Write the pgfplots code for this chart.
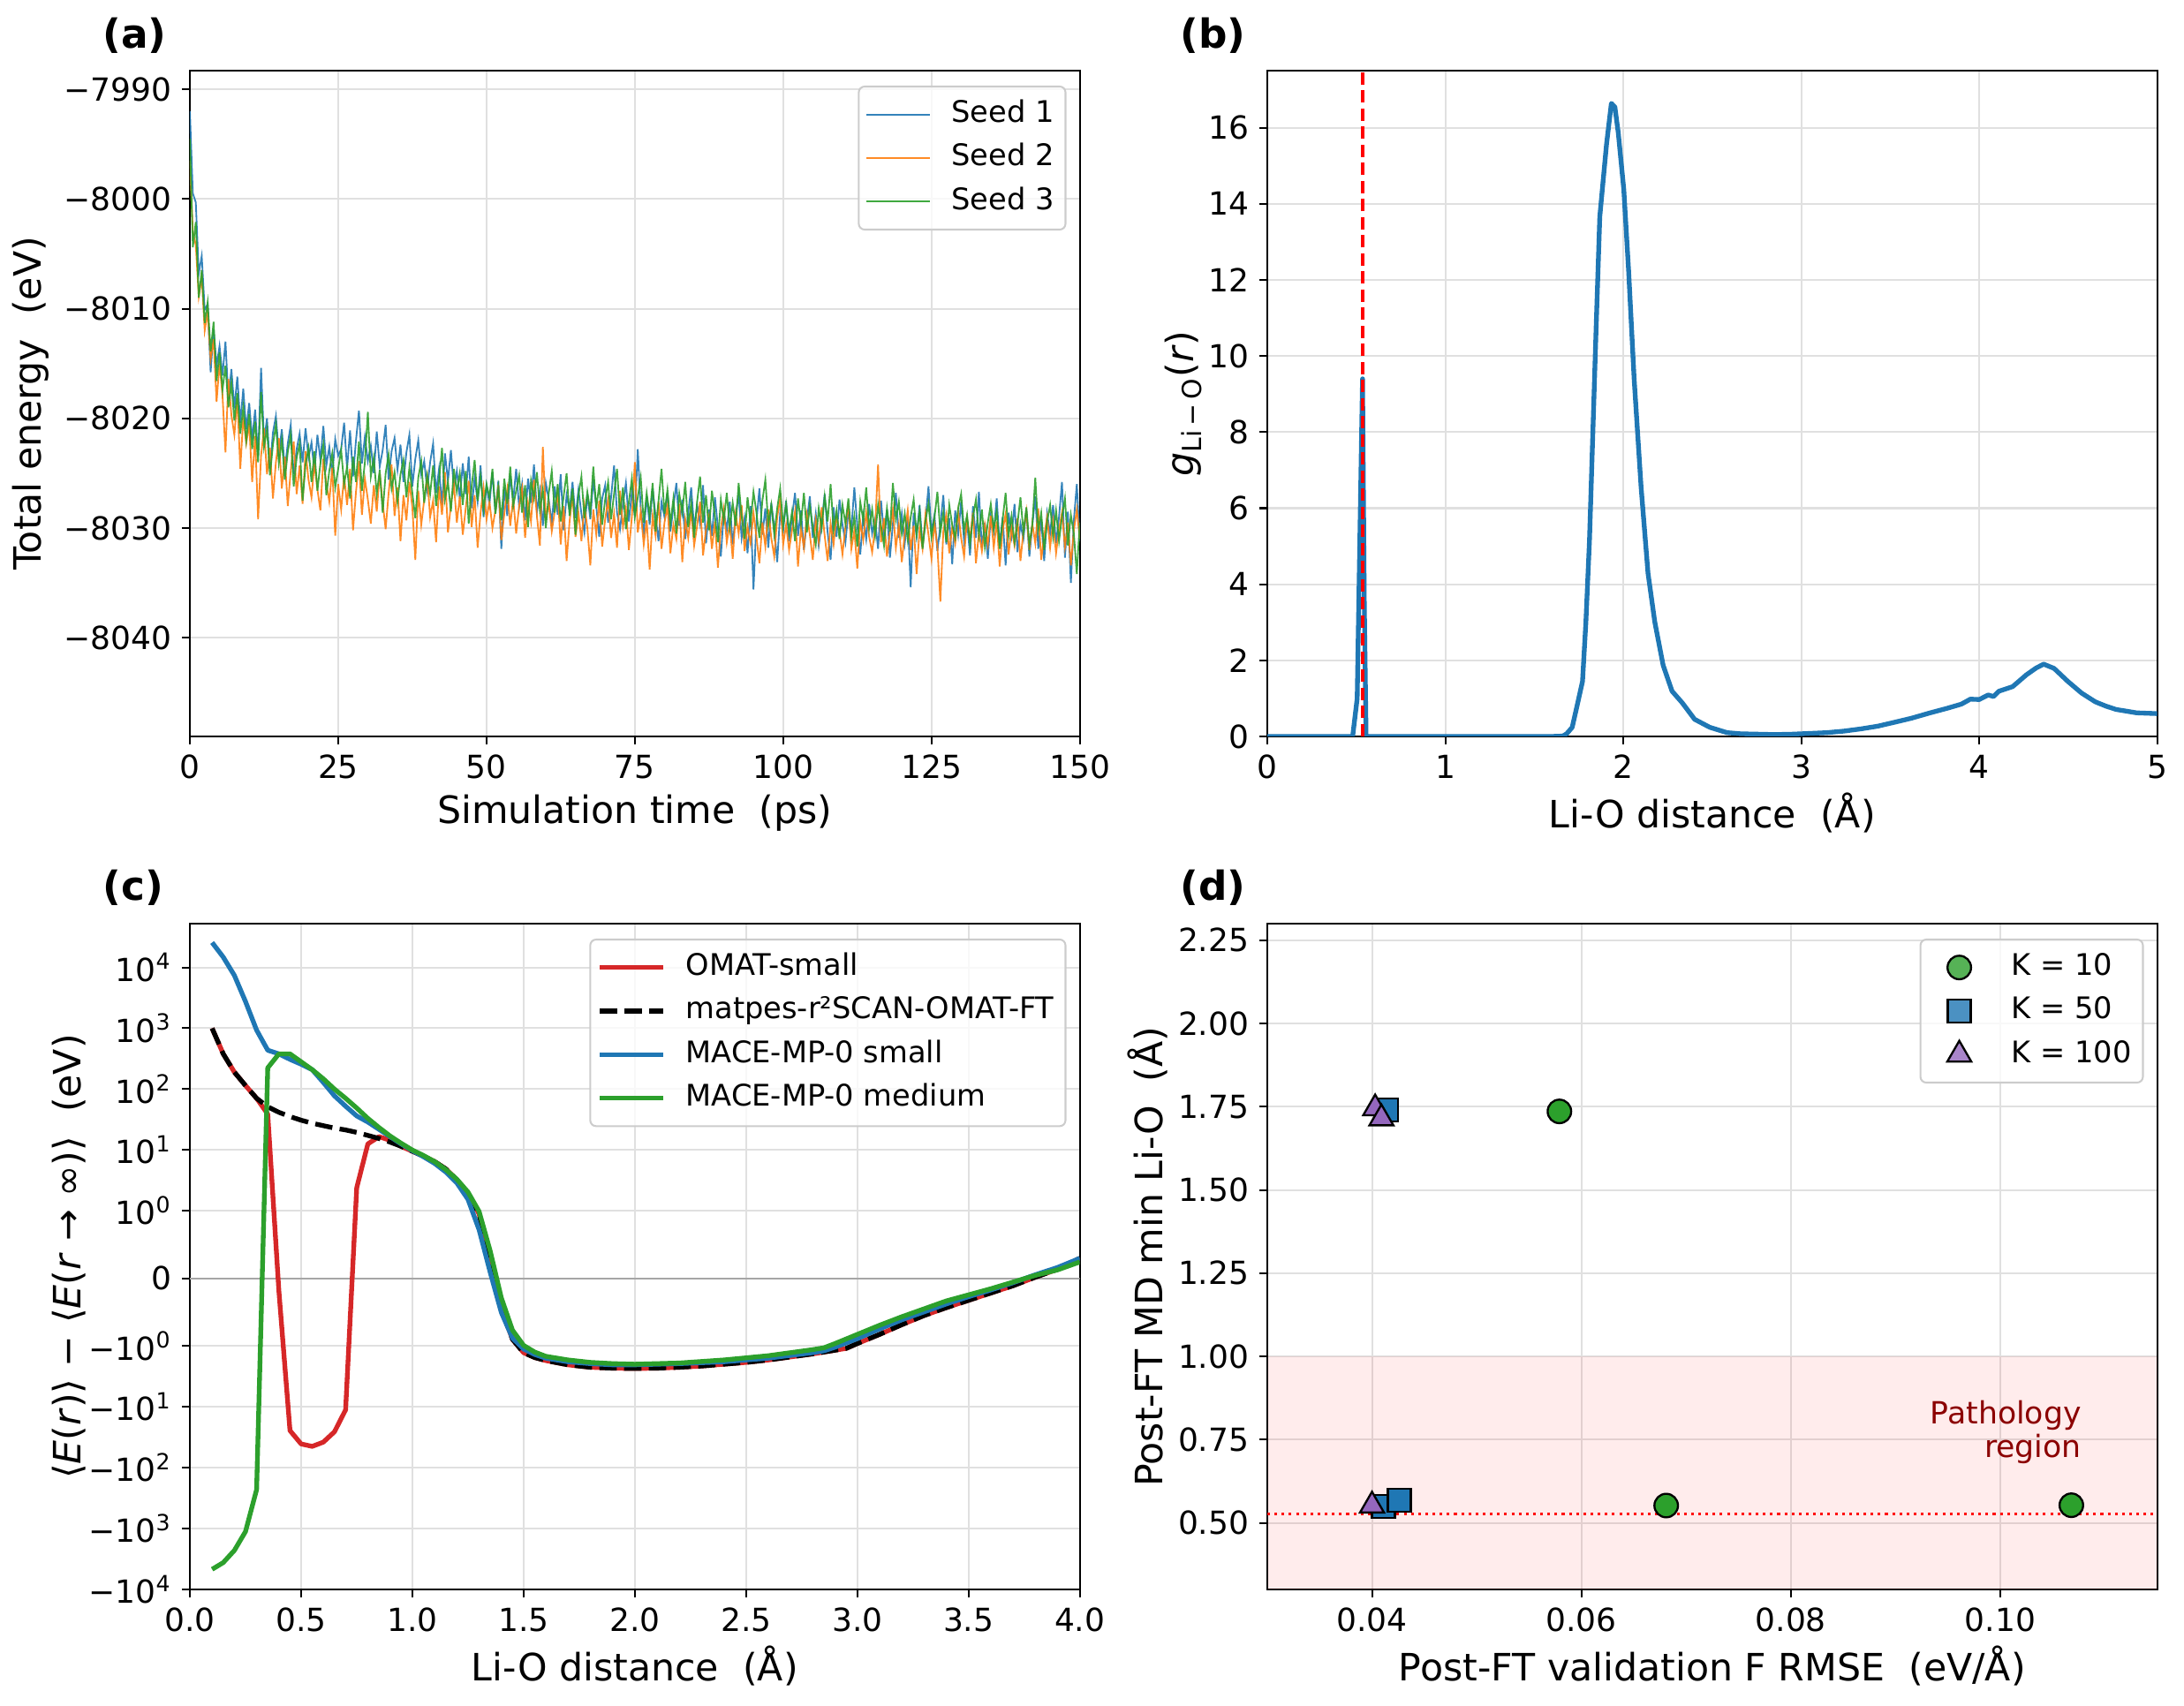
\documentclass[border=0pt]{standalone}
\usepackage{fontspec}
\setmainfont{DejaVu Sans}
\usepackage{pgfplots}
\pgfplotsset{compat=1.18}
\definecolor{mplblue}{HTML}{1F77B4}
\definecolor{mplorange}{HTML}{FF7F0E}
\definecolor{mplgreen}{HTML}{2CA02C}
\definecolor{mplred}{HTML}{D62728}
\definecolor{mplpurple}{HTML}{9467BD}
\definecolor{darkred}{HTML}{8B0000}
\pgfplotsset{
 panel/.style={
  scale only axis, width=302.3pt, height=226.2pt, anchor=south west,
  axis line style={line width=0.62pt},
  tick style={black, line width=0.62pt},
  major tick length=2.7pt,
  tick align=outside, tick pos=left,
  grid=major, major grid style={black!12, line width=0.62pt},
  tick label style={font=\fontsize{10.8}{13}\selectfont},
  label style={font=\fontsize{12.8}{15}\selectfont},
  /pgf/number format/assume math mode=true,
  scaled ticks=false,
  legend cell align=left,
  legend style={font=\fontsize{10.1}{12}\selectfont, at={(0.985,0.9775)}, anchor=north east,
    draw=black!20, line width=0.62pt, rounded corners=2pt, fill=white, fill opacity=0.8, text opacity=1,
    row sep=1.8pt, nodes={inner sep=1.5pt, text height=7.6pt, text depth=2.4pt},
    inner xsep=2.4pt, inner ysep=3pt,
    /tikz/every odd column/.append style={column sep=5.4pt}},
  legend image code/.code={\draw[#1] (0pt,0pt) -- (21.6pt,0pt);},
  xlabel style={at={(axis description cs:0.5,-0.115)}, anchor=center},
  ylabel style={anchor=center},
 },
 mklegend/.style={legend image code/.code={\path[draw=none] (0pt,0pt) -- (21.6pt,0pt); \draw[##1] plot coordinates {(10.8pt,0pt)};}}
}
\begin{document}
\begin{tikzpicture}
\useasboundingbox (0,0) rectangle (741.9pt,579.3pt);
% ---------------- (a)
\begin{axis}[panel, at={(64.5pt,329.1pt)},
  xmin=0, xmax=150, ymin=-8049, ymax=-7988.3,
  xtick={0,25,50,75,100,125,150},
  ytick={-8040,-8030,-8020,-8010,-8000,-7990},
  yticklabels={−8040,−8030,−8020,−8010,−8000,−7990},
  xlabel={Simulation time\ \ (ps)}, ylabel={Total energy\ \ (eV)},
  ylabel style={at={(axis description cs:-0.179,0.5)}}]
\addplot[mplblue, line width=0.55pt, opacity=0.9] table[header=false, row sep=\\, x expr=\coordindex*0.5, y index=0] {
-7992.0\\ -7999.5\\ -8000.3\\ -8006.8\\ -8005.2\\ -8010.1\\ -8009.6\\ -8015.8\\ -8011.9\\ -8015.2\\ -8013.4\\ -8016.1\\ -8013.0\\ -8018.3\\ -8015.5\\ -8019.1\\ -8016.2\\ -8020.4\\ -8017.3\\ -8021.0\\ -8018.6\\
-8021.9\\ -8019.2\\ -8023.5\\ -8015.4\\ -8022.1\\ -8020.0\\ -8024.6\\ -8021.3\\ -8019.8\\ -8023.2\\
-8021.0\\ -8024.7\\ -8022.3\\ -8020.6\\ -8025.1\\ -8022.8\\ -8021.4\\ -8024.0\\ -8020.9\\ -8023.6\\
-8022.2\\ -8024.9\\ -8021.5\\ -8023.8\\ -8020.7\\ -8024.3\\ -8022.6\\ -8025.2\\ -8021.9\\ -8023.4\\
-8022.8\\ -8020.4\\ -8024.6\\ -8021.1\\ -8025.3\\ -8022.0\\ -8019.3\\ -8024.1\\ -8021.7\\ -8023.9\\
-8022.5\\ -8025.0\\ -8021.2\\ -8024.4\\ -8022.9\\ -8020.6\\ -8025.6\\ -8023.0\\ -8021.8\\ -8024.7\\
-8022.4\\ -8025.8\\ -8023.1\\ -8021.5\\ -8026.2\\ -8023.7\\ -8022.0\\ -8025.1\\ -8023.9\\ -8026.5\\
-8024.0\\ -8022.3\\ -8026.8\\ -8024.6\\ -8027.9\\ -8023.2\\ -8025.7\\ -8022.9\\ -8026.4\\ -8024.8\\
-8027.3\\ -8024.1\\ -8026.9\\ -8023.5\\ -8028.2\\ -8025.4\\ -8027.6\\ -8024.3\\ -8029.0\\ -8026.1\\
-8027.8\\ -8024.9\\ -8028.6\\ -8025.7\\ -8031.9\\ -8026.3\\ -8028.9\\ -8025.2\\ -8027.5\\ -8024.6\\
-8028.1\\ -8026.0\\ -8029.3\\ -8025.5\\ -8027.7\\ -8024.2\\ -8028.5\\ -8026.6\\ -8029.8\\ -8025.9\\
-8027.4\\ -8029.6\\ -8026.2\\ -8028.8\\ -8025.1\\ -8030.2\\ -8027.0\\ -8028.4\\ -8025.8\\ -8029.1\\
-8026.5\\ -8028.7\\ -8030.4\\ -8026.9\\ -8029.2\\ -8025.6\\ -8028.0\\ -8030.8\\ -8027.3\\ -8026.1\\
-8029.5\\ -8027.2\\ -8024.3\\ -8028.6\\ -8030.1\\ -8027.8\\ -8025.9\\ -8029.4\\ -8026.7\\ -8028.9\\
-8022.8\\ -8028.3\\ -8030.5\\ -8027.1\\ -8029.7\\ -8026.4\\ -8028.9\\ -8031.2\\ -8027.6\\ -8029.0\\
-8026.8\\ -8030.3\\ -8028.1\\ -8025.9\\ -8029.8\\ -8027.4\\ -8031.0\\ -8028.6\\ -8026.3\\ -8030.0\\
-8027.9\\ -8029.6\\ -8026.1\\ -8031.4\\ -8028.3\\ -8030.7\\ -8027.2\\ -8029.9\\ -8032.6\\ -8028.5\\
-8030.2\\ -8027.6\\ -8031.5\\ -8028.8\\ -8026.9\\ -8030.9\\ -8029.1\\ -8032.3\\ -8028.0\\ -8035.6\\
-8029.4\\ -8026.4\\ -8030.6\\ -8028.2\\ -8031.8\\ -8027.7\\ -8029.9\\ -8033.1\\ -8028.6\\ -8030.3\\
-8027.5\\ -8031.2\\ -8029.0\\ -8026.8\\ -8030.7\\ -8028.4\\ -8032.0\\ -8029.3\\ -8027.1\\ -8030.9\\
-8028.7\\ -8031.6\\ -8029.5\\ -8026.9\\ -8030.4\\ -8032.9\\ -8028.1\\ -8030.8\\ -8027.4\\ -8029.7\\
-8031.3\\ -8028.5\\ -8030.1\\ -8026.3\\ -8029.8\\ -8032.4\\ -8028.9\\ -8031.0\\ -8027.8\\ -8030.5\\
-8029.2\\ -8031.9\\ -8027.5\\ -8030.6\\ -8028.3\\ -8032.7\\ -8029.6\\ -8026.8\\ -8030.9\\ -8028.7\\
-8031.4\\ -8029.0\\ -8035.4\\ -8028.6\\ -8030.8\\ -8027.9\\ -8031.7\\ -8029.3\\ -8026.2\\ -8030.4\\
-8028.8\\ -8032.1\\ -8029.7\\ -8027.0\\ -8031.5\\ -8029.1\\ -8033.3\\ -8028.4\\ -8030.6\\ -8027.6\\
-8031.2\\ -8029.4\\ -8032.5\\ -8028.0\\ -8030.9\\ -8026.7\\ -8031.8\\ -8029.5\\ -8032.8\\ -8028.9\\
-8030.3\\ -8027.3\\ -8031.6\\ -8029.0\\ -8033.4\\ -8028.6\\ -8030.7\\ -8027.8\\ -8032.2\\ -8029.6\\
-8031.0\\ -8028.3\\ -8032.6\\ -8029.8\\ -8027.1\\ -8031.9\\ -8029.2\\ -8033.0\\ -8028.7\\ -8030.5\\
-8027.9\\ -8031.4\\ -8029.0\\ -8025.8\\ -8032.7\\ -8028.5\\ -8035.0\\ -8029.3\\ -8026.0\\ -8031.2\\
};
\addlegendentry{Seed 1}
\addplot[mplorange, line width=0.55pt, opacity=0.9] table[header=false, row sep=\\, x expr=\coordindex*0.5, y index=0] {
-7996.5\\ -8003.0\\ -8004.2\\ -8008.9\\ -8007.1\\ -8012.0\\ -8010.3\\ -8014.6\\ -8012.8\\ -8018.5\\ -8015.0\\ -8017.9\\ -8023.1\\ -8016.4\\ -8019.7\\ -8021.5\\ -8018.2\\ -8024.6\\ -8019.9\\ -8022.3\\ -8020.5\\
-8025.8\\ -8021.6\\ -8029.2\\ -8023.4\\ -8020.9\\ -8025.1\\ -8022.7\\ -8027.3\\ -8024.0\\ -8021.8\\
-8026.4\\ -8023.5\\ -8028.0\\ -8024.8\\ -8022.1\\ -8026.9\\ -8024.3\\ -8027.8\\ -8023.0\\ -8025.6\\
-8027.2\\ -8024.1\\ -8026.5\\ -8028.4\\ -8023.7\\ -8025.9\\ -8027.6\\ -8024.5\\ -8030.7\\ -8026.0\\
-8028.3\\ -8025.2\\ -8027.9\\ -8024.6\\ -8030.2\\ -8026.7\\ -8023.9\\ -8028.8\\ -8025.5\\ -8027.4\\
-8029.6\\ -8026.1\\ -8028.5\\ -8025.0\\ -8027.7\\ -8030.1\\ -8026.8\\ -8024.2\\ -8028.9\\ -8026.3\\
-8031.2\\ -8027.0\\ -8029.3\\ -8025.8\\ -8028.1\\ -8032.9\\ -8026.6\\ -8029.7\\ -8027.4\\ -8025.3\\
-8029.0\\ -8027.5\\ -8031.3\\ -8026.2\\ -8028.8\\ -8024.9\\ -8030.4\\ -8027.9\\ -8026.0\\ -8029.5\\
-8027.1\\ -8030.6\\ -8028.2\\ -8025.7\\ -8029.9\\ -8027.0\\ -8031.8\\ -8028.6\\ -8026.3\\ -8029.2\\
-8027.6\\ -8030.0\\ -8028.4\\ -8026.1\\ -8031.1\\ -8028.7\\ -8026.5\\ -8029.8\\ -8027.3\\ -8030.5\\
-8028.0\\ -8026.4\\ -8030.9\\ -8027.7\\ -8029.4\\ -8025.6\\ -8028.9\\ -8031.6\\ -8022.6\\ -8029.1\\
-8027.8\\ -8030.3\\ -8028.5\\ -8026.7\\ -8031.5\\ -8028.0\\ -8033.0\\ -8029.4\\ -8027.0\\ -8030.8\\
-8028.6\\ -8031.2\\ -8027.9\\ -8030.0\\ -8033.4\\ -8028.3\\ -8030.6\\ -8027.5\\ -8031.7\\ -8029.2\\
-8027.4\\ -8030.9\\ -8028.7\\ -8031.8\\ -8026.6\\ -8029.9\\ -8028.2\\ -8032.0\\ -8029.0\\ -8024.0\\
-8030.4\\ -8028.5\\ -8031.5\\ -8029.3\\ -8033.8\\ -8028.9\\ -8030.7\\ -8027.6\\ -8031.9\\ -8029.5\\
-8028.0\\ -8032.3\\ -8029.7\\ -8031.0\\ -8027.8\\ -8033.1\\ -8029.2\\ -8030.9\\ -8028.4\\ -8031.6\\
-8029.8\\ -8027.6\\ -8032.5\\ -8030.1\\ -8028.9\\ -8031.9\\ -8029.4\\ -8033.6\\ -8030.0\\ -8028.2\\
-8031.3\\ -8029.6\\ -8032.8\\ -8028.7\\ -8030.5\\ -8027.9\\ -8032.1\\ -8029.9\\ -8031.4\\ -8028.6\\
-8030.8\\ -8033.2\\ -8029.5\\ -8031.7\\ -8028.3\\ -8030.9\\ -8032.6\\ -8029.0\\ -8027.3\\ -8031.5\\
-8029.7\\ -8032.0\\ -8030.2\\ -8028.5\\ -8033.5\\ -8030.0\\ -8031.8\\ -8028.8\\ -8030.6\\ -8032.9\\
-8029.3\\ -8031.2\\ -8028.1\\ -8030.7\\ -8033.0\\ -8029.6\\ -8031.5\\ -8028.9\\ -8030.3\\ -8032.4\\
-8029.9\\ -8027.8\\ -8031.9\\ -8030.2\\ -8033.7\\ -8029.4\\ -8031.1\\ -8028.6\\ -8030.8\\ -8032.2\\
-8030.0\\ -8024.2\\ -8031.3\\ -8029.1\\ -8032.6\\ -8030.4\\ -8028.3\\ -8031.8\\ -8029.7\\ -8033.1\\
-8030.5\\ -8028.4\\ -8032.0\\ -8029.8\\ -8034.2\\ -8030.1\\ -8031.9\\ -8028.7\\ -8030.6\\ -8032.8\\
-8029.5\\ -8031.7\\ -8036.7\\ -8030.3\\ -8028.8\\ -8032.3\\ -8029.9\\ -8031.4\\ -8028.5\\ -8030.9\\
-8032.6\\ -8029.2\\ -8031.0\\ -8028.6\\ -8033.2\\ -8030.4\\ -8032.1\\ -8029.7\\ -8031.5\\ -8028.9\\
-8031.8\\ -8029.4\\ -8033.5\\ -8030.2\\ -8028.7\\ -8032.4\\ -8030.0\\ -8031.6\\ -8029.1\\ -8033.0\\
-8030.3\\ -8028.5\\ -8032.0\\ -8029.6\\ -8031.4\\ -8028.2\\ -8032.9\\ -8030.7\\ -8029.0\\ -8031.8\\
-8029.4\\ -8032.3\\ -8030.1\\ -8028.6\\ -8031.7\\ -8029.5\\ -8033.4\\ -8030.2\\ -8028.3\\ -8031.0\\
};
\addlegendentry{Seed 2}
\addplot[mplgreen, line width=0.55pt, opacity=0.9] table[header=false, row sep=\\, x expr=\coordindex*0.5, y index=0] {
-7994.5\\ -8004.4\\ -8002.1\\ -8009.0\\ -8006.5\\ -8011.3\\ -8009.4\\ -8013.9\\ -8011.2\\ -8016.6\\ -8014.0\\ -8017.4\\ -8015.2\\ -8019.0\\ -8016.8\\ -8020.2\\ -8017.7\\ -8021.4\\ -8019.0\\ -8022.0\\ -8019.6\\
-8022.8\\ -8020.3\\ -8024.0\\ -8017.6\\ -8022.6\\ -8021.0\\ -8025.2\\ -8022.4\\ -8020.6\\ -8024.1\\
-8022.0\\ -8025.6\\ -8023.1\\ -8021.5\\ -8026.2\\ -8023.6\\ -8022.3\\ -8027.5\\ -8024.2\\ -8022.7\\
-8025.8\\ -8023.0\\ -8026.6\\ -8024.1\\ -8022.4\\ -8027.0\\ -8024.8\\ -8023.2\\ -8026.3\\ -8024.6\\
-8022.9\\ -8026.0\\ -8024.4\\ -8027.3\\ -8023.5\\ -8025.8\\ -8022.1\\ -8026.6\\ -8024.0\\ -8019.4\\
-8025.3\\ -8023.6\\ -8026.9\\ -8024.7\\ -8028.6\\ -8025.0\\ -8023.3\\ -8026.4\\ -8024.9\\ -8027.6\\
-8025.1\\ -8023.8\\ -8027.2\\ -8024.5\\ -8026.8\\ -8029.1\\ -8025.4\\ -8023.9\\ -8027.7\\ -8025.2\\
-8026.9\\ -8024.3\\ -8028.0\\ -8025.6\\ -8022.7\\ -8027.4\\ -8025.8\\ -8028.5\\ -8024.6\\ -8026.7\\
-8025.0\\ -8027.9\\ -8024.8\\ -8029.6\\ -8026.2\\ -8023.8\\ -8027.5\\ -8025.3\\ -8028.3\\ -8026.0\\
-8027.2\\ -8024.6\\ -8028.7\\ -8026.3\\ -8029.3\\ -8025.5\\ -8027.8\\ -8024.4\\ -8028.0\\ -8026.6\\
-8025.2\\ -8028.6\\ -8026.1\\ -8029.9\\ -8025.7\\ -8027.3\\ -8024.9\\ -8028.4\\ -8026.5\\ -8030.0\\
-8026.8\\ -8024.8\\ -8028.6\\ -8026.0\\ -8029.4\\ -8027.1\\ -8025.0\\ -8028.9\\ -8026.4\\ -8030.6\\
-8027.0\\ -8025.3\\ -8029.1\\ -8026.7\\ -8028.5\\ -8024.4\\ -8028.2\\ -8026.0\\ -8029.7\\ -8027.4\\
-8025.8\\ -8029.2\\ -8026.9\\ -8024.6\\ -8028.8\\ -8026.3\\ -8030.1\\ -8027.6\\ -8025.5\\ -8029.0\\
-8027.2\\ -8025.4\\ -8029.5\\ -8026.8\\ -8028.9\\ -8025.9\\ -8030.3\\ -8027.5\\ -8024.6\\ -8028.7\\
-8026.5\\ -8029.6\\ -8027.3\\ -8030.5\\ -8026.9\\ -8028.6\\ -8025.8\\ -8029.9\\ -8027.7\\ -8030.9\\
-8027.6\\ -8025.3\\ -8029.5\\ -8027.0\\ -8030.2\\ -8026.6\\ -8028.9\\ -8031.3\\ -8027.4\\ -8029.3\\
-8026.8\\ -8030.0\\ -8027.7\\ -8029.8\\ -8025.9\\ -8028.9\\ -8031.0\\ -8027.2\\ -8029.5\\ -8026.7\\
-8028.6\\ -8030.9\\ -8027.5\\ -8025.6\\ -8029.7\\ -8027.9\\ -8030.6\\ -8028.2\\ -8026.4\\ -8029.8\\
-8027.8\\ -8030.3\\ -8028.5\\ -8031.2\\ -8027.3\\ -8029.6\\ -8026.8\\ -8030.4\\ -8028.0\\ -8029.9\\
-8031.5\\ -8028.2\\ -8030.0\\ -8027.1\\ -8029.4\\ -8026.0\\ -8030.2\\ -8028.4\\ -8031.0\\ -8027.9\\
-8029.6\\ -8027.3\\ -8030.8\\ -8028.9\\ -8031.7\\ -8027.6\\ -8029.3\\ -8026.3\\ -8030.0\\ -8028.3\\
-8030.7\\ -8027.9\\ -8029.8\\ -8031.6\\ -8028.2\\ -8030.3\\ -8025.9\\ -8029.2\\ -8027.6\\ -8030.5\\
-8028.7\\ -8031.1\\ -8029.0\\ -8027.4\\ -8030.6\\ -8028.5\\ -8031.9\\ -8029.3\\ -8027.8\\ -8030.8\\
-8029.1\\ -8026.7\\ -8030.4\\ -8028.6\\ -8031.3\\ -8027.9\\ -8029.7\\ -8030.9\\ -8028.2\\ -8026.9\\
-8030.2\\ -8028.8\\ -8031.4\\ -8029.0\\ -8027.4\\ -8030.6\\ -8028.3\\ -8031.7\\ -8029.5\\ -8027.8\\
-8030.1\\ -8028.5\\ -8031.9\\ -8029.2\\ -8026.8\\ -8030.7\\ -8028.9\\ -8031.3\\ -8029.6\\ -8027.2\\
-8030.4\\ -8028.1\\ -8031.5\\ -8029.7\\ -8025.4\\ -8030.2\\ -8028.6\\ -8032.0\\ -8029.4\\ -8027.9\\
-8030.8\\ -8028.4\\ -8031.2\\ -8029.0\\ -8027.3\\ -8031.6\\ -8028.8\\ -8030.5\\ -8034.2\\ -8029.5\\
};
\addlegendentry{Seed 3}
\end{axis}
% ---------------- (b)
\begin{axis}[panel, at={(430.5pt,329.1pt)},
  xmin=0, xmax=5, ymin=0, ymax=17.5,
  xtick={0,1,2,3,4,5}, ytick={0,2,4,6,8,10,12,14,16},
  xlabel={Li-O distance\ \ (Å)},
  ylabel={\textit{g}\textsubscript{Li\,−\,O}(\textit{r})},
  ylabel style={at={(axis description cs:-0.094,0.5)}}]
\addplot[mplblue, line width=1.6pt, line join=round] coordinates {
(0,0)(0.47,0)(0.48,0.02)(0.505,1.0)(0.535,9.4)(0.545,3.5)(0.555,0)(0.8,0)(1.2,0)(1.6,0)(1.66,0.01)
(1.682,0.07)(1.713,0.24)(1.744,0.88)(1.771,1.45)(1.790,3.01)(1.810,5.14)(1.829,7.98)(1.848,10.82)
(1.868,13.66)(1.906,15.57)(1.933,16.64)(1.953,16.54)(1.972,15.86)(2.003,14.37)(2.030,12.24)
(2.061,9.40)(2.100,6.56)(2.139,4.29)(2.177,3.01)(2.224,1.87)(2.274,1.19)(2.332,0.88)(2.401,0.45)
(2.486,0.24)(2.583,0.10)(2.66,0.07)(2.757,0.06)(2.85,0.05)(2.950,0.06)(3.05,0.08)(3.144,0.10)
(3.24,0.14)(3.337,0.20)(3.43,0.27)(3.531,0.38)(3.62,0.48)(3.724,0.62)(3.82,0.74)(3.90,0.85)
(3.95,0.98)(4.0,0.97)(4.05,1.09)(4.08,1.05)(4.111,1.19)(4.188,1.31)(4.265,1.62)(4.32,1.80)
(4.362,1.90)(4.420,1.79)(4.497,1.45)(4.575,1.14)(4.652,0.91)(4.71,0.80)(4.768,0.71)(4.884,0.62)(5.000,0.60)};
\addplot[red, line width=1.15pt, dash pattern=on 4.3pt off 1.85pt] coordinates {(0.535,0)(0.535,17.5)};
\end{axis}
% ---------------- (c)
\begin{axis}[panel, at={(64.5pt,39.3pt)},
  xmin=0, xmax=4, ymin=-5.1111, ymax=5.83,
  xtick={0,0.5,1,1.5,2,2.5,3,3.5,4},
  x tick label style={/pgf/number format/.cd, fixed, fixed zerofill, precision=1, /tikz/.cd},
  ytick={-5.1111,-4.1111,-3.1111,-2.1111,-1.1111,0,1.1111,2.1111,3.1111,4.1111,5.1111},
  yticklabels={−10\textsuperscript{4},−10\textsuperscript{3},−10\textsuperscript{2},−10\textsuperscript{1},−10\textsuperscript{0},0,10\textsuperscript{0},10\textsuperscript{1},10\textsuperscript{2},10\textsuperscript{3},10\textsuperscript{4}},
  xlabel={Li-O distance\ \ (Å)},
  ylabel={⟨\textit{E}(\textit{r})⟩ − ⟨\textit{E}(\textit{r} → ∞)⟩\ \ (eV)},
  ylabel style={at={(axis description cs:-0.136,0.5)}}]
\addplot[black!35, line width=0.7pt, forget plot] coordinates {(0,0)(4,0)};
\addplot[mplred, line width=1.6pt, line join=round] coordinates {
(0.10,4.11)(0.15,3.69)(0.20,3.39)(0.25,3.17)(0.30,2.96)(0.35,2.70)(0.40,-0.2)(0.45,-2.50)(0.50,-2.72)
(0.55,-2.76)(0.60,-2.69)(0.65,-2.52)(0.70,-2.16)(0.75,1.49)(0.80,2.21)(0.85,2.33)(0.90,2.27)
(0.95,2.17)(1.00,2.09)(1.05,2.01)(1.10,1.92)(1.15,1.80)(1.20,1.62)(1.25,1.38)(1.30,1.06)(1.35,0.25)
(1.40,-0.50)(1.45,-1.00)(1.50,-1.22)(1.55,-1.30)(1.60,-1.35)(1.70,-1.42)(1.80,-1.46)(1.90,-1.475)
(2.00,-1.48)(2.10,-1.475)(2.20,-1.46)(2.30,-1.44)(2.40,-1.41)(2.50,-1.38)(2.60,-1.34)(2.70,-1.29)
(2.80,-1.24)(2.90,-1.18)(2.95,-1.15)(3.00,-1.07)(3.10,-0.92)(3.20,-0.76)(3.30,-0.61)(3.40,-0.48)
(3.50,-0.36)(3.60,-0.24)(3.70,-0.12)(3.80,0.02)(3.90,0.15)(4.00,0.33)};
\addlegendentry{OMAT-small}
\addplot[black, line width=1.6pt, dash pattern=on 5.9pt off 2.5pt] coordinates {
(0.10,4.11)(0.15,3.69)(0.20,3.39)(0.25,3.17)(0.30,2.96)(0.35,2.82)(0.40,2.73)(0.45,2.66)(0.50,2.60)
(0.55,2.55)(0.60,2.51)(0.65,2.47)(0.70,2.44)(0.75,2.40)(0.80,2.35)(0.85,2.30)(0.90,2.24)(0.95,2.17)
(1.00,2.09)(1.05,2.01)(1.10,1.92)(1.15,1.80)(1.20,1.62)(1.25,1.38)(1.30,1.06)(1.35,0.25)(1.40,-0.50)
(1.45,-1.00)(1.50,-1.22)(1.55,-1.30)(1.60,-1.35)(1.70,-1.42)(1.80,-1.46)(1.90,-1.475)(2.00,-1.48)
(2.10,-1.475)(2.20,-1.46)(2.30,-1.44)(2.40,-1.41)(2.50,-1.38)(2.60,-1.34)(2.70,-1.29)(2.80,-1.24)
(2.90,-1.18)(2.95,-1.15)(3.00,-1.07)(3.10,-0.92)(3.20,-0.76)(3.30,-0.61)(3.40,-0.48)(3.50,-0.36)
(3.60,-0.24)(3.70,-0.12)(3.80,0.02)(3.90,0.15)(4.00,0.33)};
\addlegendentry{matpes-r²SCAN-OMAT-FT}
\addplot[mplblue, line width=1.6pt, line join=round] coordinates {
(0.10,5.52)(0.15,5.28)(0.20,4.98)(0.25,4.55)(0.30,4.08)(0.35,3.75)(0.40,3.69)(0.45,3.60)(0.50,3.52)
(0.55,3.43)(0.60,3.22)(0.65,3.00)(0.70,2.83)(0.75,2.67)(0.80,2.57)(0.85,2.45)(0.90,2.33)(0.95,2.21)
(1.00,2.10)(1.05,2.00)(1.10,1.89)(1.15,1.75)(1.20,1.57)(1.25,1.30)(1.30,0.80)(1.35,0.10)(1.40,-0.56)
(1.45,-0.98)(1.50,-1.16)(1.55,-1.25)(1.60,-1.31)(1.70,-1.37)(1.80,-1.40)(1.90,-1.42)(2.00,-1.42)
(2.20,-1.40)(2.40,-1.37)(2.60,-1.31)(2.80,-1.22)(2.85,-1.19)(2.90,-1.13)(3.00,-0.99)(3.10,-0.83)
(3.20,-0.68)(3.30,-0.55)(3.40,-0.42)(3.50,-0.30)(3.60,-0.19)(3.70,-0.07)(3.80,0.06)(3.90,0.18)(4.00,0.33)};
\addlegendentry{MACE-MP-0 small}
\addplot[mplgreen, line width=1.6pt, line join=round] coordinates {
(0.10,-4.78)(0.15,-4.67)(0.20,-4.47)(0.25,-4.16)(0.30,-3.47)(0.35,3.46)(0.40,3.69)(0.45,3.69)(0.50,3.56)
(0.55,3.43)(0.60,3.28)(0.65,3.11)(0.70,2.96)(0.75,2.80)(0.80,2.63)(0.85,2.48)(0.90,2.34)(0.95,2.22)
(1.00,2.11)(1.05,2.02)(1.10,1.92)(1.15,1.79)(1.20,1.63)(1.25,1.42)(1.30,1.10)(1.35,0.45)(1.40,-0.32)
(1.45,-0.85)(1.50,-1.10)(1.55,-1.21)(1.60,-1.28)(1.70,-1.34)(1.80,-1.38)(1.90,-1.40)(2.00,-1.41)
(2.20,-1.39)(2.40,-1.34)(2.60,-1.27)(2.80,-1.17)(2.85,-1.14)(2.90,-1.07)(3.00,-0.92)(3.10,-0.77)
(3.20,-0.63)(3.30,-0.50)(3.40,-0.37)(3.50,-0.27)(3.60,-0.17)(3.70,-0.06)(3.80,0.05)(3.90,0.14)(4.00,0.27)};
\addlegendentry{MACE-MP-0 medium}
\end{axis}
% ---------------- (d)
\begin{axis}[panel, at={(430.5pt,39.3pt)},
  xmin=0.03, xmax=0.115, ymin=0.3, ymax=2.3,
  xtick={0.04,0.06,0.08,0.10},
  x tick label style={/pgf/number format/.cd, fixed, fixed zerofill, precision=2, /tikz/.cd},
  ytick={0.5,0.75,1.0,1.25,1.5,1.75,2.0,2.25},
  y tick label style={/pgf/number format/.cd, fixed, fixed zerofill, precision=2, /tikz/.cd},
  xlabel={Post-FT validation F RMSE\ \ (eV/Å)},
  ylabel={Post-FT MD min Li-O\ \ (Å)},
  ylabel style={at={(axis description cs:-0.134,0.5)}}]
\addplot[draw=none, fill=red, fill opacity=0.075, forget plot] coordinates {(0.03,0.3)(0.115,0.3)(0.115,1.0)(0.03,1.0)} -- cycle;
\addplot[red, line width=0.92pt, dash pattern=on 0.92pt off 1.52pt, forget plot] coordinates {(0.03,0.527)(0.115,0.527)};
\addplot[only marks, mark=*, mark size=4.0pt, mark options={fill=mplgreen, draw=black, line width=0.7pt}, mklegend] coordinates {(0.0579,1.736)(0.0681,0.552)(0.1068,0.553)};
\addlegendentry{K = 10}
\addplot[only marks, mark=square*, mark size=3.9pt, mark options={fill=mplblue, draw=black, line width=0.7pt}, mklegend] coordinates {(0.0414,1.741)(0.0411,0.550)(0.0426,0.568)};
\addlegendentry{K = 50}
\addplot[only marks, mark=triangle*, mark size=4.7pt, mark options={fill=mplpurple, draw=black, line width=0.7pt}, mklegend] coordinates {(0.0403,1.745)(0.0409,1.715)(0.0400,0.552)};
\addlegendentry{K = 100}
\node[anchor=east, align=right, inner sep=0pt, text=darkred, font=\fontsize{10.4}{11.6}\selectfont] at (axis cs:0.1078,0.772) {Pathology\\region};
\end{axis}
% panel labels
\node[anchor=west, inner sep=0pt, font=\bfseries\fontsize{13.6}{16}\selectfont] at (34.8pt,567.3pt) {(a)};
\node[anchor=west, inner sep=0pt, font=\bfseries\fontsize{13.6}{16}\selectfont] at (400.8pt,567.3pt) {(b)};
\node[anchor=west, inner sep=0pt, font=\bfseries\fontsize{13.6}{16}\selectfont] at (34.8pt,277.8pt) {(c)};
\node[anchor=west, inner sep=0pt, font=\bfseries\fontsize{13.6}{16}\selectfont] at (400.8pt,277.8pt) {(d)};
\end{tikzpicture}
\end{document}
